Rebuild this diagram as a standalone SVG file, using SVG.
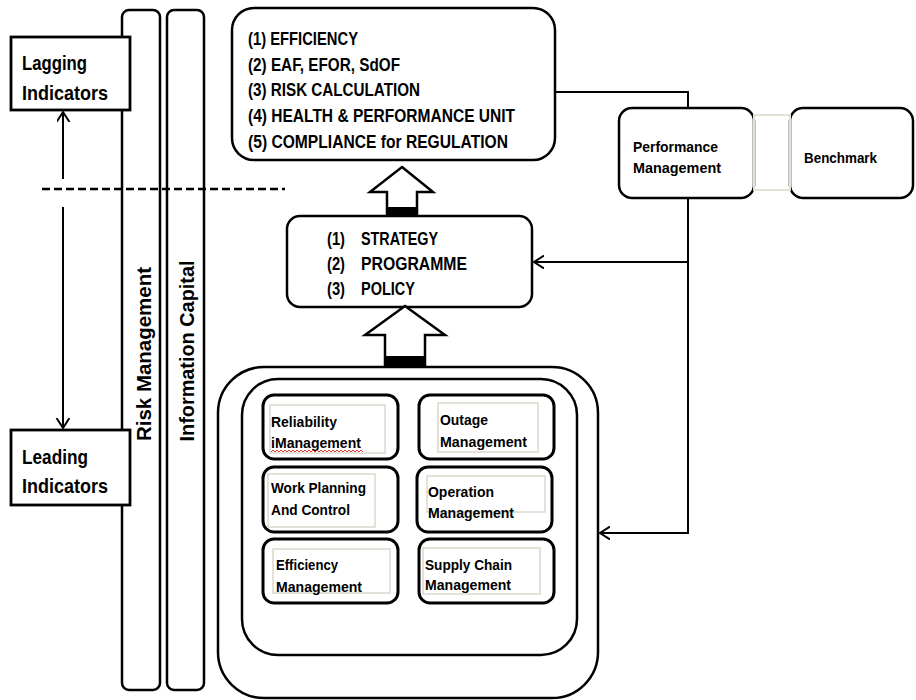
<svg xmlns="http://www.w3.org/2000/svg" width="916" height="700" viewBox="0 0 916 700">
<style>
  .box{fill:#fff;stroke:#000;stroke-width:2.5}
  .bar{fill:none;stroke:#000;stroke-width:2.5}
  .sbox{fill:#fff;stroke:#000;stroke-width:3}
  .faint{fill:none;stroke:#dcd8cc;stroke-width:1.5}
  .t{font-family:"Liberation Sans",Arial,sans-serif;font-weight:bold;fill:#000}
  .big{font-size:21px}
  .mid{font-size:18px}
  .sm{font-size:15px}
  .line{fill:none;stroke:#000;stroke-width:2}
  .harrow{fill:#fff;stroke:#000;stroke-width:2.5;stroke-linejoin:miter}
</style>
<defs>
  <marker id="open" markerUnits="userSpaceOnUse" markerWidth="14" markerHeight="16" refX="10" refY="6.5" orient="auto">
    <path d="M0,0 L10,6.5 L0,13" fill="none" stroke="#000" stroke-width="2"/>
  </marker>
</defs>

<g id="risk-management">
  <rect class="bar" x="122" y="10" width="38" height="680" rx="7"/>
  <text class="t" font-size="20" text-anchor="middle" textLength="174" lengthAdjust="spacingAndGlyphs" transform="translate(151,354) rotate(-90)">Risk Management</text>
</g>
<g id="information-capital">
  <rect class="bar" x="167" y="10" width="37" height="680" rx="7"/>
  <text class="t" font-size="20" text-anchor="middle" textLength="181" lengthAdjust="spacingAndGlyphs" transform="translate(194,351) rotate(-90)">Information Capital</text>
</g>

<g id="lagging-indicators">
  <rect x="11" y="37" width="119" height="73" fill="#fff" stroke="#000" stroke-width="2.8"/>
  <text class="t big" x="22" y="70" textLength="65" lengthAdjust="spacingAndGlyphs">Lagging</text>
  <text class="t big" x="22" y="100" textLength="86" lengthAdjust="spacingAndGlyphs">Indicators</text>
</g>
<g id="leading-indicators">
  <rect x="11" y="430" width="119" height="75" fill="#fff" stroke="#000" stroke-width="2.8"/>
  <text class="t big" x="22" y="464" textLength="66" lengthAdjust="spacingAndGlyphs">Leading</text>
  <text class="t big" x="22" y="493" textLength="86" lengthAdjust="spacingAndGlyphs">Indicators</text>
</g>

<g id="divider">
  <line x1="42" y1="189" x2="285" y2="189" stroke="#000" stroke-width="2.5" stroke-dasharray="8,4"/>
</g>

<g id="outcomes">
  <rect class="box" x="232" y="8" width="323" height="152" rx="22"/>
  <text class="t mid" x="248" y="45" textLength="110" lengthAdjust="spacingAndGlyphs">(1) EFFICIENCY</text>
  <text class="t mid" x="248" y="71" textLength="152" lengthAdjust="spacingAndGlyphs">(2)  EAF, EFOR, SdOF</text>
  <text class="t mid" x="248" y="96" textLength="172" lengthAdjust="spacingAndGlyphs">(3)  RISK CALCULATION</text>
  <text class="t mid" x="248" y="122" textLength="267" lengthAdjust="spacingAndGlyphs">(4) HEALTH &amp; PERFORMANCE UNIT</text>
  <text class="t mid" x="248" y="148" textLength="260" lengthAdjust="spacingAndGlyphs">(5) COMPLIANCE for REGULATION</text>
</g>

<g id="arrow-up-1">
  <polygon class="harrow" points="402,167 433,192 417,192 417,215 387,215 387,192 370,192"/>
  <rect x="387" y="207" width="30" height="8" fill="#000"/>
</g>

<g id="strategy">
  <rect class="box" x="287" y="216" width="245" height="91" rx="13"/>
  <text class="t mid" x="327" y="245" textLength="18" lengthAdjust="spacingAndGlyphs">(1)</text>
  <text class="t mid" x="361" y="245" textLength="77" lengthAdjust="spacingAndGlyphs">STRATEGY</text>
  <text class="t mid" x="327" y="270" textLength="18" lengthAdjust="spacingAndGlyphs">(2)</text>
  <text class="t mid" x="361" y="270" textLength="106" lengthAdjust="spacingAndGlyphs">PROGRAMME</text>
  <text class="t mid" x="327" y="295" textLength="18" lengthAdjust="spacingAndGlyphs">(3)</text>
  <text class="t mid" x="361" y="295" textLength="54" lengthAdjust="spacingAndGlyphs">POLICY</text>
</g>

<g id="arrow-up-2">
  <polygon class="harrow" points="405,306 445,335 425,335 425,365 385,365 385,335 365,335"/>
  <rect x="385" y="356" width="40" height="9" fill="#000"/>
</g>

<g id="functions">
  <rect class="box" x="218" y="367" width="380" height="331" rx="46"/>
  <rect class="box" x="242" y="379" width="335" height="276" rx="36"/>
</g>

<g id="reliability">
  <rect class="sbox" x="263" y="395" width="135" height="64" rx="11"/>
  <rect class="faint" x="270" y="405" width="115" height="48"/>
  <text class="t sm" x="271" y="427" textLength="66" lengthAdjust="spacingAndGlyphs">Reliability</text>
  <text class="t sm" x="271" y="448" textLength="90" lengthAdjust="spacingAndGlyphs">iManagement</text>
  <path d="M271,452 l2,-2 l2,2 l2,-2 l2,2 l2,-2 l2,2 l2,-2 l2,2 l2,-2 l2,2 l2,-2 l2,2 l2,-2 l2,2 l2,-2 l2,2 l2,-2 l2,2 l2,-2 l2,2 l2,-2 l2,2 l2,-2 l2,2 l2,-2 l2,2 l2,-2 l2,2 l2,-2 l2,2 l2,-2 l2,2 l2,-2 l2,2 l2,-2 l2,2 l2,-2 l2,2 l2,-2 l2,2 l2,-2 l2,2 l2,-2 l2,2 l2,-2 l2,2" fill="none" stroke="#e03030" stroke-width="1"/>
</g>
<g id="outage">
  <rect class="sbox" x="419" y="395" width="135" height="64" rx="11"/>
  <rect class="faint" x="438" y="403" width="100" height="49"/>
  <text class="t sm" x="440" y="425" textLength="48" lengthAdjust="spacingAndGlyphs">Outage</text>
  <text class="t sm" x="440" y="447" textLength="87" lengthAdjust="spacingAndGlyphs">Management</text>
</g>
<g id="work-planning">
  <rect class="sbox" x="263" y="467" width="135" height="65" rx="11"/>
  <rect class="faint" x="268" y="474" width="107" height="53"/>
  <text class="t sm" x="271" y="493" textLength="95" lengthAdjust="spacingAndGlyphs">Work Planning</text>
  <text class="t sm" x="271" y="515" textLength="79" lengthAdjust="spacingAndGlyphs">And Control</text>
</g>
<g id="operation">
  <rect class="sbox" x="417" y="467" width="135" height="65" rx="11"/>
  <rect class="faint" x="427" y="476" width="118" height="36"/>
  <text class="t sm" x="428" y="497" textLength="66" lengthAdjust="spacingAndGlyphs">Operation</text>
  <text class="t sm" x="428" y="518" textLength="86" lengthAdjust="spacingAndGlyphs">Management</text>
</g>
<g id="efficiency">
  <rect class="sbox" x="263" y="539" width="135" height="64" rx="11"/>
  <rect class="faint" x="273" y="549" width="117" height="44"/>
  <text class="t sm" x="276" y="570" textLength="62" lengthAdjust="spacingAndGlyphs">Efficiency</text>
  <text class="t sm" x="276" y="592" textLength="86" lengthAdjust="spacingAndGlyphs">Management</text>
</g>
<g id="supply-chain">
  <rect class="sbox" x="419" y="539" width="135" height="64" rx="11"/>
  <rect class="faint" x="423" y="548" width="117" height="46"/>
  <text class="t sm" x="425" y="570" textLength="87" lengthAdjust="spacingAndGlyphs">Supply Chain</text>
  <text class="t sm" x="425" y="590" textLength="86" lengthAdjust="spacingAndGlyphs">Management</text>
</g>

<g id="performance-management">
  <rect class="box" x="619" y="108" width="135" height="90" rx="13"/>
  <text class="t" font-size="15" x="633" y="152" textLength="85" lengthAdjust="spacingAndGlyphs">Performance</text>
  <text class="t" font-size="15" x="633" y="173" textLength="88" lengthAdjust="spacingAndGlyphs">Management</text>
</g>
<g id="benchmark">
  <rect class="box" x="790" y="108" width="123" height="90" rx="13"/>
  <text class="t" font-size="15" x="804" y="163" textLength="73" lengthAdjust="spacingAndGlyphs">Benchmark</text>
</g>

<g id="connectors">
  <rect x="754" y="115" width="36" height="75" fill="none" stroke="#e4e0d4" stroke-width="2"/>
  <path class="line" d="M555,92 H688 V108"/>
  <path class="line" d="M688,198 V533 H600" marker-end="url(#open)"/>
  <path class="line" d="M688,262 H534" marker-end="url(#open)"/>
  <path class="line" d="M63,179 V112" marker-end="url(#open)"/>
  <path class="line" d="M63,207 V428" marker-end="url(#open)"/>
</g>
</svg>
